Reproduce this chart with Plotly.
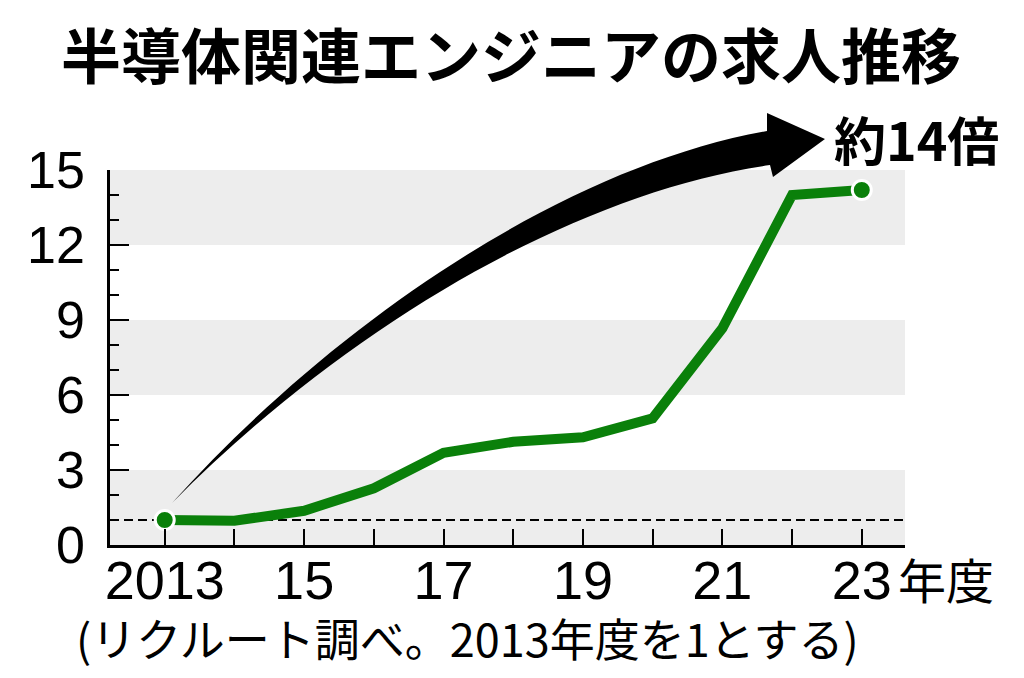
import plotly.graph_objects as go

# ---- data ----
years = [2013, 2014, 2015, 2016, 2017, 2018, 2019, 2020, 2021, 2022, 2023]
index_values = [1.0, 0.97, 1.37, 2.27, 3.69, 4.13, 4.31, 5.07, 8.67, 14.0, 14.2]
x_tick_labels = ["2013", "", "15", "", "17", "", "19", "", "21", "", "23"]
y_tick_vals = [0, 3, 6, 9, 12, 15]
band_ranges = [(0, 3), (6, 9), (12, 15)]
baseline = 1

title_text = "半導体関連エンジニアの求人推移"
ratio_text = "約14倍"
unit_text = "年度"
note_text = "(リクルート調べ。2013年度を1とする)"

# ---- layout geometry (pixels) ----
W, H = 1024, 678
L, R, T, B = 110, 905, 170, 545


def px(x, y):
    return (x - L) / (R - L), (B - y) / (B - T)


def pt(x, y):
    a, b = px(x, y)
    return f"{a:.5f},{b:.5f}"


GREEN = "#0a800a"
JP = "Noto Sans CJK JP"
NUM = "Liberation Sans"

fig = go.Figure()

fig.add_trace(go.Scatter(
    x=years, y=index_values, mode="lines",
    line=dict(color=GREEN, width=10),
    hoverinfo="skip", showlegend=False,
))
fig.add_trace(go.Scatter(
    x=[years[0], years[-1]], y=[index_values[0], index_values[-1]], mode="markers",
    marker=dict(color=GREEN, size=19, line=dict(color="white", width=3)),
    hoverinfo="skip", showlegend=False, cliponaxis=False,
))

shapes = []
for y0, y1 in band_ranges:
    shapes.append(dict(type="rect", xref="paper", yref="y", x0=0, x1=1, y0=y0, y1=y1,
                       fillcolor="#ededed", line=dict(width=0), layer="below"))
shapes.append(dict(type="line", xref="paper", yref="y", x0=0, x1=1, y0=baseline, y1=baseline,
                   line=dict(color="black", width=2, dash="9px,5px"), layer="below"))

# curved arrow (decoration)
path = ("M " + pt(172, 503) +
        " C " + pt(335, 322) + " " + pt(564, 167) + " " + pt(767, 131) +
        " L " + pt(767, 113) + " L " + pt(825, 139) + " L " + pt(773, 177) +
        " L " + pt(770, 165) +
        " C " + pt(573, 193) + " " + pt(345, 328) + " " + pt(172, 503) + " Z")
shapes.append(dict(type="path", xref="paper", yref="paper", path=path,
                   fillcolor="black", line=dict(width=0), layer="above"))

annotations = []
tx, ty = px(511, 52)
annotations.append(dict(text=f"<b>{title_text}</b>", x=tx, y=ty, xref="paper", yref="paper",
                        showarrow=False, xanchor="center", yanchor="middle",
                        font=dict(family=JP, size=60, color="black")))
rx, ry = px(916, 138)
annotations.append(dict(text=f"<b>{ratio_text}</b>", x=rx, y=ry, xref="paper", yref="paper",
                        showarrow=False, xanchor="center", yanchor="middle",
                        font=dict(family=JP, size=52, color="black")))
ux, uy = px(896, 578)
annotations.append(dict(text=unit_text, x=ux, y=uy, xref="paper", yref="paper",
                        showarrow=False, xanchor="left", yanchor="middle",
                        font=dict(family=JP, size=48, color="black")))
nx, ny = px(467, 637)
annotations.append(dict(text=note_text, x=nx, y=ny, xref="paper", yref="paper",
                        showarrow=False, xanchor="center", yanchor="middle",
                        font=dict(family=JP, size=45, color="black")))

fig.update_layout(
    width=W, height=H,
    margin=dict(l=L, r=W - R, t=T, b=H - B, pad=0),
    paper_bgcolor="white", plot_bgcolor="white",
    shapes=shapes, annotations=annotations,
    showlegend=False,
)
fig.update_xaxes(
    range=[2012.215, 2023.62], tickvals=years, ticktext=x_tick_labels,
    ticks="inside", ticklen=16, tickwidth=2, tickcolor="black",
    showline=True, linecolor="black", linewidth=2.5, showgrid=False, zeroline=False,
    tickfont=dict(family=NUM, size=54, color="black"), ticklabelstandoff=-14,
)
fig.update_yaxes(
    range=[0, 15], tickvals=y_tick_vals,
    ticks="inside", ticklen=19, tickwidth=2, tickcolor="black",
    minor=dict(dtick=1, ticks="inside", ticklen=9, tickwidth=2, tickcolor="black", showgrid=False),
    showline=True, linecolor="black", linewidth=2.5, showgrid=False, zeroline=False,
    tickfont=dict(family=NUM, size=52, color="black"), ticklabelstandoff=12,
)

fig.write_html("out.html")
